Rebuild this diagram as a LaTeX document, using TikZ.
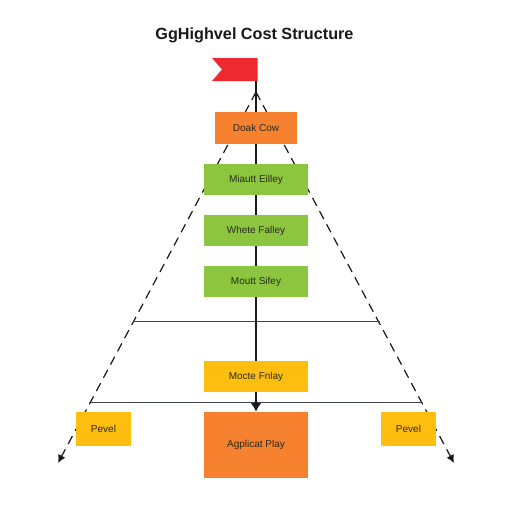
\documentclass[tikz,border=0pt]{standalone}
\usepackage{fontspec}
\setmainfont{Liberation Sans}
\usetikzlibrary{arrows.meta}
\definecolor{boxorange}{HTML}{F6822F}
\definecolor{boxgreen}{HTML}{8CC63F}
\definecolor{boxyellow}{HTML}{FDBE10}
\definecolor{flagred}{HTML}{EE2A30}
\definecolor{ink}{HTML}{2A2A20}
\definecolor{rule}{HTML}{3C4250}
\tikzset{
  x=1pt,y=-1pt,
  box/.style={draw=none,inner sep=0pt,font=\fontsize{10}{12}\selectfont,text=ink,anchor=center},
  orangebox/.style={box,fill=boxorange},
  greenbox/.style={box,fill=boxgreen,minimum width=104pt,minimum height=31pt},
  yellowbox/.style={box,fill=boxyellow},
  pole/.style={line width=2.6pt,color=black!90},
  slant/.style={line width=1.2pt,color=black!90,dash pattern=on 9pt off 6pt,-{Latex[length=8pt,width=8pt]}},
  level/.style={line width=1pt,color=rule},
}
\begin{document}
\begin{tikzpicture}
\useasboundingbox (0,0) rectangle (512,512);
\fill[white] (0,0) rectangle (512,512);
\node[font=\fontsize{16.2}{19}\selectfont\bfseries,text=black!90] (title) at (254.5,35) {GgHighvel Cost Structure};
\coordinate (apex) at (256,92);
\coordinate (tipL) at (58,463);
\coordinate (tipR) at (454,463);
\coordinate (a1) at (133,321);
\coordinate (a2) at (380,321);
\coordinate (b1) at (91,402);
\coordinate (b2) at (422,402);
\coordinate (flagfoot) at (256,81);
\draw[slant] (apex) -- (tipL);
\draw[slant] (apex) -- (tipR);
\draw[level] (a1) -- (a2);
\draw[level] (b1) -- (b2);
\fill[flagred] (212,58) -- (257.5,58) -- (257.5,81) -- (212,81) -- (222,69.5) -- cycle;
\node[orangebox,minimum width=82pt,minimum height=32pt] (cow) at (256,128) {Doak Cow};
\node[greenbox] (g1) at (256,179.5) {Miautt Eilley};
\node[greenbox] (g2) at (256,230.5) {Whete Falley};
\node[greenbox] (g3) at (256,281.5) {Moutt Sifey};
\node[yellowbox,minimum width=104pt,minimum height=31pt] (y1) at (256,376.5) {Mocte Fnlay};
\node[orangebox,minimum width=104pt,minimum height=66pt] (big) at (256,445) {Agplicat Play};
\node[yellowbox,minimum width=55pt,minimum height=34pt] (pl) at (103.5,429) {Pevel};
\node[yellowbox,minimum width=55pt,minimum height=34pt] (pr) at (408.5,429) {Pevel};
\draw[pole] (flagfoot) -- (cow);
\draw[pole] (cow) -- (g1);
\draw[pole] (g1) -- (g2);
\draw[pole] (g2) -- (g3);
\draw[pole] (g3) -- (y1);
\draw[pole,-{Latex[length=9pt,width=11pt]}] (y1) -- (big);
\end{tikzpicture}
\end{document}
